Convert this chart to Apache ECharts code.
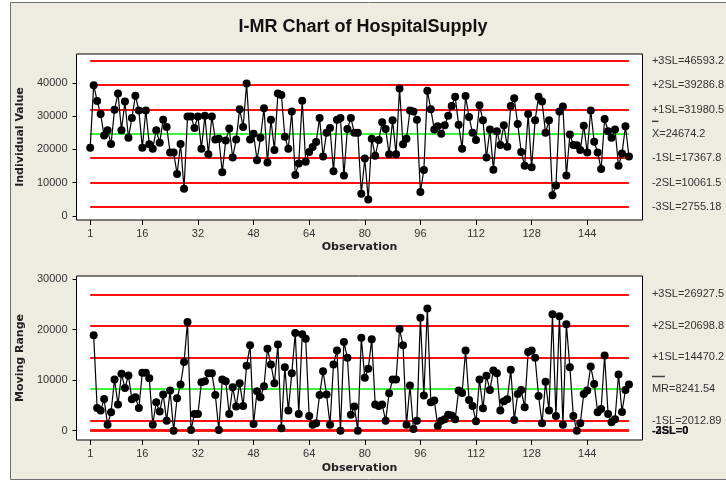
<!DOCTYPE html>
<html>
<head>
<meta charset="utf-8">
<script src="https://cdn.jsdelivr.net/npm/echarts@6/dist/echarts.min.js"></script>
<style>
html,body{margin:0;padding:0;background:#fff;}
#chart{width:726px;height:481px;}
</style>
</head>
<body>
<div id="chart"></div>
<script>
// ---- data ----
const individualValues = [
  20530, 39300, 34540, 30600, 24180, 25760, 21610, 31880, 36810, 25760,
  34350, 23490, 29410, 36120, 31680, 20530, 31680, 21520, 20230, 25760,
  22010, 28920, 26750, 19050, 19050, 12630, 21610, 8190, 29900, 29900,
  26450, 29900, 20230, 30100, 18560, 29900, 23000, 23190, 13130, 22700,
  26250, 17570, 23000, 32080, 26750, 39780, 23000, 24670, 16780, 23490,
  32370, 16090, 28920, 19840, 36810, 36320, 23790, 20230, 31390, 12340,
  15790, 34640, 16290, 19250, 20730, 22210, 29410, 17860, 24970, 26450,
  13420, 28920, 29410, 12140, 26160, 29410, 24970, 24970, 6710, 17270,
  4930, 23190, 18060, 22800, 28130, 26160, 18560, 28720, 18560, 38300,
  21520, 23190, 31680, 31390, 28920, 7200, 13820, 37600, 32080, 25960,
  26940, 24670, 27240, 30100, 33060, 35830, 27440, 20230, 36020, 29710,
  24970, 22800, 33260, 28720, 17570, 25960, 13920, 25460, 21320, 27240,
  20830, 33060, 35330, 27640, 19250, 15100, 30600, 14610, 28720, 35830,
  34350, 24970, 28720, 6220, 9180, 31390, 32870, 12140, 24480, 21320,
  21220, 19840, 27140, 19050, 31680, 22310, 19050, 14110, 29120, 25460,
  23490, 25960, 15100, 18750, 26940, 17860
];
// moving ranges start at observation 2
const movingRanges = [
  18840, 4500, 3970, 6280, 1190, 3640, 10110, 5160, 11240, 8460,
  10910, 6210, 6610, 4500, 11440, 11440, 10380, 1190, 5620, 3770,
  7140, 1980, 7930, 0, 6410, 9120, 13550, 21480, 130, 3310,
  3310, 9590, 9780, 11370, 11370, 7070, 130, 10110, 9780, 3310,
  8590, 4760, 9390, 4890, 12820, 16860, 1320, 7800, 6610, 8790,
  16200, 13090, 9390, 17050, 460, 12560, 3970, 11370, 19300, 3310,
  19040, 18180, 2910, 1190, 1450, 7070, 11770, 7140, 1190, 13090,
  15860, 0, 17520, 14410, 3170, 4760, 0, 18380, 10440, 12230,
  18050, 5160, 4890, 5160, 1980, 7400, 10110, 10110, 20090, 16860,
  1190, 8920, 330, 1980, 22340, 6940, 24130, 5620, 5950, 930,
  1980, 2250, 3170, 2980, 2250, 7930, 7470, 15860, 6080, 4890,
  1850, 10110, 4430, 10840, 8060, 11900, 11370, 3970, 5820, 6210,
  12030, 2120, 7270, 8060, 4630, 15530, 15860, 14410, 6870, 1450,
  9650, 3970, 23000, 2910, 22610, 1190, 21020, 12560, 2910, 0,
  1450, 7270, 7930, 12690, 9250, 3640, 4300, 14870, 3310, 1650,
  2250, 11110, 3700, 8060, 9120
];
const xTickLabels = [1, 16, 32, 48, 64, 80, 96, 112, 128, 144];
const individualYTicks = [0, 10000, 20000, 30000, 40000];
const mrYTicks = [0, 10000, 20000, 30000];
const individualLimitNames = ['+3SL', '+2SL', '+1SL', 'X', '-1SL', '-2SL', '-3SL'];
const individualLimitValues = [46593.2, 39286.8, 31980.5, 24674.2, 17367.8, 10061.5, 2755.18];
const mrLimitNames = ['+3SL', '+2SL', '+1SL', 'MR', '-1SL', '-3SL', '-2SL'];
const mrLimitValues = [26927.5, 20698.8, 14470.2, 8241.54, 2012.89, 0, 0];
const titleText = 'I-MR Chart of HospitalSupply';

// ---- build ----
const FONT = 'Liberation Sans';
const NAMEFONT = 'DejaVu Sans';
const TXT = '#333';
const firstObs = 1;
const lastObs = individualValues.length;
const indData = individualValues.map((v, i) => [i + 1, v]);
const mrData = movingRanges.map((v, i) => [i + 2, v]);
const plain = v => String(v);
const nameStyle = { fontWeight: 'bold', fontSize: 11, color: '#222', fontFamily: NAMEFONT };

function limitLines(names, values, centerName) {
  return names.map((n, i) => {
    const v = values[i];
    const center = (n === centerName);
    const zero = (v === 0);
    let label;
    if (center) {
      label = {
        show: true, position: 'end', distance: 23,
        formatter: '{o|}\n{n|' + n + '=' + v + '}',
        padding: [0, 0, 12, 0],
        rich: {
          o: { width: n.length * 6.5, height: 1.5, backgroundColor: '#444', lineHeight: 12 },
          n: { lineHeight: 13, fontSize: 11, color: TXT, fontFamily: FONT }
        },
        color: TXT, fontSize: 11, fontFamily: FONT
      };
    } else {
      label = {
        show: true, position: 'end', distance: 23,
        formatter: n + '=' + v,
        color: zero ? '#111' : TXT, fontSize: 11, fontFamily: FONT,
        fontWeight: zero ? 'bold' : 'normal'
      };
    }
    return [
      { coord: [firstObs, v], lineStyle: { color: center ? '#00ee00' : '#ff1010', width: center ? 1.5 : (zero ? 2.5 : 1.8), type: 'solid' }, label: label },
      { coord: [lastObs, v] }
    ];
  });
}

const xAxisCommon = {
  type: 'value', min: -2.94, max: 159.9,
  axisLine: { show: false, onZero: false },
  splitLine: { show: false },
  axisTick: { show: true, inside: false, length: 5, lineStyle: { color: '#000' }, customValues: xTickLabels },
  axisLabel: { show: true, customValues: xTickLabels, formatter: plain, color: TXT, fontSize: 11, fontFamily: FONT, margin: 8 },
  name: 'Observation', nameLocation: 'middle', nameGap: 22,
  nameTextStyle: nameStyle
};

const option = {
  animation: false,
  backgroundColor: 'transparent',
  graphic: [
    { type: 'rect', z: -20, silent: true, shape: { x: 0, y: 0, width: 726, height: 481 }, style: { fill: '#ffffff' } },
    { type: 'rect', z: -19, silent: true, shape: { x: 10.5, y: 2.5, width: 740, height: 477 }, style: { fill: '#EEEBE1', stroke: '#707070', lineWidth: 1 } }
  ],
  title: {
    text: titleText, left: 'center', top: 13,
    textStyle: { fontSize: 18, fontWeight: 'bold', color: '#111', fontFamily: FONT }
  },
  grid: [
    { left: 76.5, right: 83.5, top: 54, height: 166, show: true, backgroundColor: '#fff', borderColor: '#000', borderWidth: 1 },
    { left: 76.5, right: 83.5, top: 276, height: 164, show: true, backgroundColor: '#fff', borderColor: '#000', borderWidth: 1 }
  ],
  xAxis: [
    Object.assign({ gridIndex: 0 }, xAxisCommon),
    Object.assign({ gridIndex: 1 }, xAxisCommon, { nameGap: 23 })
  ],
  yAxis: [
    {
      gridIndex: 0, type: 'value', min: -1200, max: 48650,
      axisLine: { show: false, onZero: false }, splitLine: { show: false },
      axisTick: { show: true, length: 4, lineStyle: { color: '#000' }, customValues: individualYTicks },
      axisLabel: { customValues: individualYTicks, formatter: plain, color: TXT, fontSize: 11, fontFamily: FONT, margin: 9 },
      name: 'Individual Value', nameLocation: 'middle', nameGap: 26,
      nameTextStyle: nameStyle
    },
    {
      gridIndex: 1, type: 'value', min: -1840, max: 30570,
      axisLine: { show: false, onZero: false }, splitLine: { show: false },
      axisTick: { show: true, length: 4, lineStyle: { color: '#000' }, customValues: mrYTicks },
      axisLabel: { customValues: mrYTicks, formatter: plain, color: TXT, fontSize: 11, fontFamily: FONT, margin: 9 },
      name: 'Moving Range', nameLocation: 'middle', nameGap: 26,
      nameTextStyle: nameStyle
    }
  ],
  series: [
    {
      type: 'line', xAxisIndex: 0, yAxisIndex: 0, data: indData,
      symbol: 'circle', symbolSize: 8, showSymbol: true,
      itemStyle: { color: '#000' }, lineStyle: { color: '#000', width: 1.2 },
      z: 3,
      markLine: { silent: true, symbol: ['none', 'none'], z: 2, data: limitLines(individualLimitNames, individualLimitValues, 'X') }
    },
    {
      type: 'line', xAxisIndex: 1, yAxisIndex: 1, data: mrData,
      symbol: 'circle', symbolSize: 8, showSymbol: true,
      itemStyle: { color: '#000' }, lineStyle: { color: '#000', width: 1.2 },
      z: 3,
      markLine: { silent: true, symbol: ['none', 'none'], z: 2, data: limitLines(mrLimitNames, mrLimitValues, 'MR') }
    }
  ]
};

const chart = echarts.init(document.getElementById('chart'), null, { renderer: 'canvas' });
chart.setOption(option);
</script>
</body>
</html>
